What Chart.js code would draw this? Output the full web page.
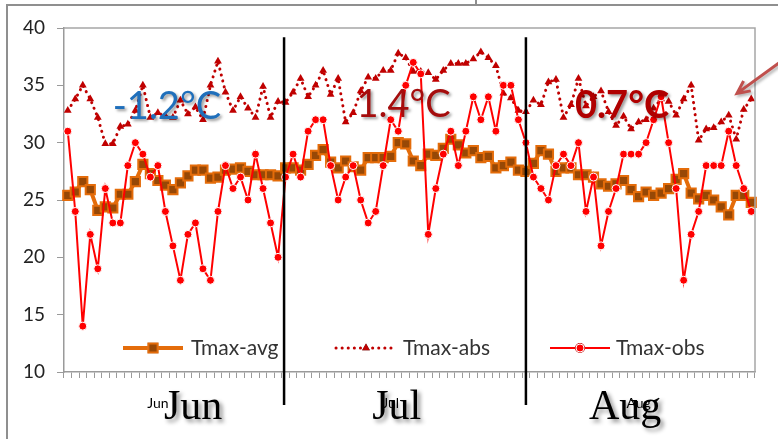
<!DOCTYPE html>
<html>
<head>
<meta charset="utf-8">
<script src="https://cdn.jsdelivr.net/npm/chart.js@4.4.1/dist/chart.umd.min.js"></script>
<style>
  html, body { margin: 0; padding: 0; background: #fff; }
  #wrap { position: relative; width: 778px; height: 439px; }
</style>
</head>
<body>
<div id="wrap"><canvas id="chart" width="778" height="439"></canvas></div>
<script>
// summer daily max temperature, 1 Jun - 31 Aug
const months = ["Jun", "Jul", "Aug"];
const monthDays = [30, 31, 31];
const tickLabelDays = ["13-Jun", "14-Jul", "16-Aug"];
const anomalies = ["-1.2°C", "1.4°C", "0.7°C"];

const tmaxAvg = [
  25.4, 25.7, 26.6, 25.9, 24.1, 24.4, 24.3, 25.5, 25.5, 26.6,
  28.1, 27.3, 26.7, 26.3, 25.9, 26.5, 27.1, 27.6, 27.6, 26.9,
  27.0, 27.6, 27.7, 27.8, 27.5, 27.2, 27.2, 27.2, 27.1, 27.8,
  27.8, 27.6, 28.1, 28.9, 29.4, 28.3, 27.8, 28.4, 27.9, 27.6,
  28.7, 28.7, 28.7, 28.8, 30.0, 29.9, 28.4, 28.0, 29.0, 28.9,
  29.5, 30.3, 29.8, 29.1, 29.3, 28.7, 28.8, 27.8, 28.0, 28.3,
  27.6, 27.5, 28.2, 29.3, 29.0, 27.5, 27.8, 27.8, 27.2, 27.2,
  27.0, 26.4, 26.2, 26.4, 26.7, 25.9, 25.3, 25.7, 25.4, 25.6,
  26.0, 26.8, 27.3, 25.6, 25.1, 25.4, 25.0, 24.4, 23.7, 25.4,
  25.4, 24.8
];
const tmaxAbs = [
  32.8, 33.8, 35.0, 33.8, 32.2, 29.9, 29.9, 31.4, 31.6, 32.8,
  35.0, 32.2, 32.6, 32.3, 32.2, 33.7, 32.5, 33.1, 32.0, 35.0,
  37.1, 34.4, 32.8, 34.0, 33.0, 32.2, 34.9, 32.2, 33.6, 33.5,
  34.4, 35.6, 34.0, 35.0, 36.3, 34.2, 35.6, 31.8, 32.6, 34.5,
  35.7, 35.6, 36.3, 36.3, 37.8, 37.4, 36.2, 36.2, 36.1, 35.5,
  36.3, 36.9, 36.9, 36.9, 37.3, 37.9, 37.4, 36.7, 34.3, 33.9,
  32.8, 32.7, 33.7, 33.3, 35.3, 35.5, 32.2, 33.3, 35.6, 33.2,
  34.0, 34.5, 32.7, 31.5, 32.3, 31.2, 31.8, 32.0, 33.0, 33.8,
  33.6, 32.4, 33.8, 35.0, 30.2, 31.2, 31.3, 31.8, 32.4, 30.3,
  32.9, 33.8
];
const tmaxObs = [
  31, 24, 14, 22, 19, 26, 23, 23, 28, 30,
  29, 27, 28, 24, 21, 18, 22, 23, 19, 18,
  24, 28, 26, 27, 25, 29, 26, 23, 20, 27,
  29, 27, 31, 32, 32, 28, 25, 27, 28, 25,
  23, 24, 28, 32, 31, 35, 37, 36, 22, 26,
  29, 31, 28, 31, 34, 32, 34, 31, 35, 35,
  32, 30, 27, 26, 25, 28, 29, 28, 30, 24,
  27, 21, 24, 26, 29, 29, 29, 30, 32, 34,
  30, 26, 18, 22, 24, 28, 28, 28, 31, 28,
  26, 24
];

const labels = [];
months.forEach((m, k) => {
  for (let d = 1; d <= monthDays[k]; d++) labels.push(d + "-" + m);
});

// text and shapes laid over the chart
const overlay = {
  id: "overlay",
  afterDatasetsDraw(chart) {
    const { ctx, chartArea: a } = chart;
    ctx.save();

    // frame round the plot
    ctx.strokeStyle = "#a6a6a6";
    ctx.lineWidth = 1.5;
    ctx.beginPath();
    ctx.moveTo(a.left, a.top);
    ctx.lineTo(a.right, a.top);
    ctx.lineTo(a.right, a.bottom);
    ctx.stroke();

    // legend inside the plot
    const items = [
      { ds: 0, x0: 123, tx: 191 },
      { ds: 1, x0: 336, tx: 403 },
      { ds: 2, x0: 550, tx: 616 }
    ];
    const ly = 348;
    ctx.font = "21px Lato";
    ctx.textBaseline = "middle";
    items.forEach(it => {
      const d = chart.data.datasets[it.ds];
      ctx.save();
      ctx.strokeStyle = d.borderColor;
      ctx.lineWidth = d.borderWidth;
      ctx.lineCap = d.borderCapStyle || "butt";
      ctx.setLineDash(d.borderDash || []);
      ctx.beginPath();
      ctx.moveTo(it.x0, ly);
      ctx.lineTo(it.x0 + 60, ly);
      ctx.stroke();
      ctx.restore();
      Chart.helpers.drawPoint(ctx, {
        pointStyle: d.pointStyle, radius: d.pointRadius, borderWidth: d.pointBorderWidth, rotation: 0
      }, it.x0 + 30, ly);
      ctx.fillStyle = d.pointBackgroundColor;
      ctx.strokeStyle = d.pointBorderColor;
      ctx.lineWidth = d.pointBorderWidth;
      ctx.fill();
      if (d.pointBorderWidth) ctx.stroke();
      ctx.fillStyle = "#333";
      ctx.fillText(d.label, it.tx, ly);
    });
    ctx.restore();
  },
  afterDraw(chart) {
    const { ctx, chartArea: a, scales: { x, y } } = chart;
    ctx.save();

    // outer frame
    ctx.strokeStyle = "#8f8f8f";
    ctx.lineWidth = 2;
    ctx.beginPath();
    ctx.moveTo(7, 439);
    ctx.lineTo(7, 5);
    ctx.lineTo(778, 5);
    ctx.moveTo(476, 0);
    ctx.lineTo(476, 5);
    ctx.stroke();

    // month dividers
    ctx.strokeStyle = "#000";
    ctx.lineWidth = 2.5;
    [28.8, 61].forEach(v => {
      const px = x.getPixelForValue(v);
      ctx.beginPath();
      ctx.moveTo(px, y.getPixelForValue(39.2));
      ctx.lineTo(px, a.bottom + 33);
      ctx.stroke();
    });

    // anomaly per month
    const spots = [
      { i: 13.2, v: 33.1, color: "#1f6fbb", weight: "" },
      { i: 44.7, v: 33.3, color: "#a50d0d", weight: "" },
      { i: 73.8, v: 33.2, color: "#b00000", weight: "bold " }
    ];
    ctx.textAlign = "center";
    ctx.textBaseline = "middle";
    spots.forEach((s, k) => {
      ctx.font = s.weight + "38px Lato";
      ctx.shadowColor = "rgba(0,0,0,0.4)";
      ctx.shadowOffsetX = 2;
      ctx.shadowOffsetY = 2;
      ctx.shadowBlur = 3;
      ctx.fillStyle = s.color;
      ctx.fillText(anomalies[k], x.getPixelForValue(s.i), y.getPixelForValue(s.v));
    });

    // big month names
    const big = [16.7, 43.8, 74.2];
    ctx.font = "42px 'Liberation Serif'";
    ctx.textBaseline = "alphabetic";
    ctx.fillStyle = "#000";
    ctx.shadowColor = "rgba(0,0,0,0.45)";
    ctx.shadowOffsetX = 3;
    ctx.shadowOffsetY = 3;
    ctx.shadowBlur = 4;
    months.forEach((m, k) => {
      ctx.fillText(m, x.getPixelForValue(big[k]), a.bottom + 47);
    });

    // arrow
    const tx = x.getPixelForValue(89.1), ty = y.getPixelForValue(34.3);
    const sx = tx + 44, sy = ty - 32;
    const ang = Math.atan2(ty - sy, tx - sx);
    ctx.shadowColor = "rgba(0,0,0,0.3)";
    ctx.shadowOffsetX = 2;
    ctx.shadowOffsetY = 2;
    ctx.shadowBlur = 3;
    ctx.strokeStyle = "#c0504d";
    ctx.lineWidth = 3;
    ctx.beginPath();
    ctx.moveTo(sx, sy);
    ctx.lineTo(tx, ty);
    ctx.moveTo(tx + 14 * Math.cos(ang + Math.PI - 0.45), ty + 14 * Math.sin(ang + Math.PI - 0.45));
    ctx.lineTo(tx, ty);
    ctx.lineTo(tx + 14 * Math.cos(ang + Math.PI + 0.45), ty + 14 * Math.sin(ang + Math.PI + 0.45));
    ctx.stroke();
    ctx.restore();
  }
};

new Chart(document.getElementById("chart"), {
  type: "line",
  data: {
    labels: labels,
    datasets: [{
      label: "Tmax-avg",
      data: tmaxAvg,
      borderColor: "#e46c0a",
      borderWidth: 4,
      pointStyle: "rect",
      pointRadius: 6.5,
      pointBackgroundColor: "#974806",
      pointBorderColor: "#e46c0a",
      pointBorderWidth: 2,
      order: 3
    }, {
      label: "Tmax-abs",
      data: tmaxAbs,
      borderColor: "#c00000",
      borderWidth: 3,
      borderDash: [0.1, 6],
      borderCapStyle: "round",
      pointStyle: "triangle",
      pointRadius: 4.5,
      pointBackgroundColor: "#c00000",
      pointBorderColor: "#c00000",
      pointBorderWidth: 0,
      order: 2
    }, {
      label: "Tmax-obs",
      data: tmaxObs,
      borderColor: "#ff0000",
      borderWidth: 2,
      pointStyle: "circle",
      pointRadius: 4,
      pointBackgroundColor: "#ff0000",
      pointBorderColor: "#ffffff",
      pointBorderWidth: 1,
      order: 1
    }]
  },
  options: {
    responsive: false,
    animation: false,
    devicePixelRatio: 1,
    layout: { padding: { top: 28, right: 23, left: 0, bottom: 0 } },
    plugins: { legend: { display: false }, tooltip: { enabled: false } },
    elements: { line: { tension: 0 } },
    scales: {
      x: {
        offset: true,
        afterFit(scale) { scale.height = 67; },
        grid: { drawOnChartArea: false, offset: true, tickLength: 6, color: "#9a9a9a" },
        border: { color: "#9a9a9a", width: 1.5 },
        ticks: {
          autoSkip: false,
          maxRotation: 0,
          padding: 17,
          color: "#000",
          font: { family: "Lato", size: 14 },
          callback(v, i) {
            const l = labels[i];
            return tickLabelDays.includes(l) ? l.split("-")[1] : "";
          }
        }
      },
      y: {
        min: 10,
        max: 40,
        afterFit(scale) { scale.width = 64; },
        grid: { drawOnChartArea: false, tickLength: 7, color: "#9a9a9a" },
        border: { color: "#9a9a9a", width: 1.5 },
        ticks: {
          stepSize: 5,
          padding: 12,
          color: "#222",
          font: { family: "Lato", size: 19 }
        }
      }
    }
  },
  plugins: [overlay]
});
</script>
</body>
</html>
